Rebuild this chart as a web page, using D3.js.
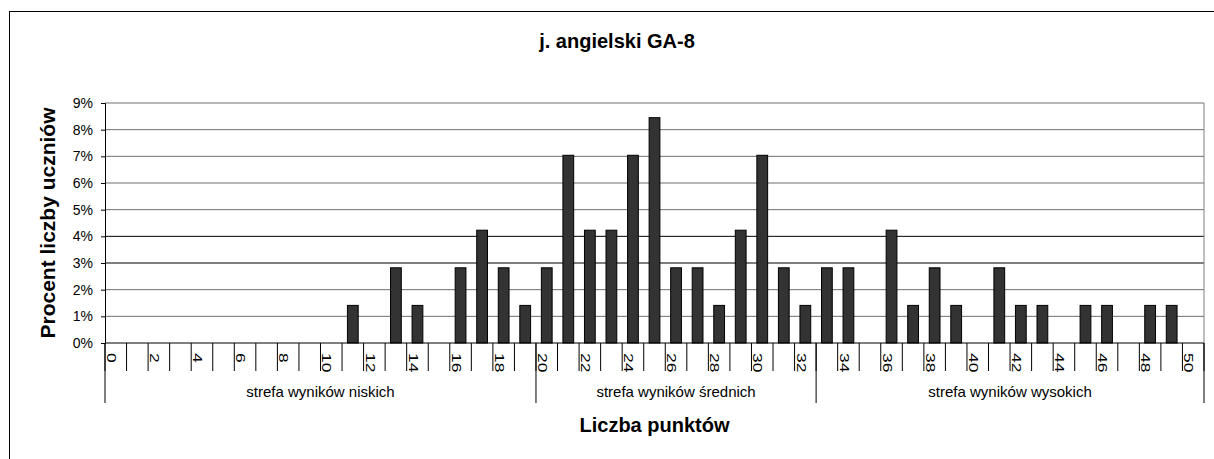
<!DOCTYPE html>
<html>
<head>
<meta charset="utf-8">
<script src="https://cdn.jsdelivr.net/npm/d3@7"></script>
<style>
  body { margin: 0; background: #fff; }
  text { font-family: Arial, "Liberation Sans", sans-serif; fill: #000; }
  .axis-title { font-weight: bold; font-size: 20px; }
</style>
</head>
<body>
<div id="chart"></div>
<script>
// chart data
const chartTitle = "j. angielski GA-8";
const points = d3.range(0, 51); // 0..50 points
const percents = [
  0, 0, 0, 0, 0, 0, 0, 0, 0, 0,
  0, 1.41, 0, 2.82, 1.41, 0, 2.82, 4.23, 2.82, 1.41,
  2.82, 7.04, 4.23, 4.23, 7.04, 8.45, 2.82, 2.82, 1.41, 4.23,
  7.04, 2.82, 1.41, 2.82, 2.82, 0, 4.23, 1.41, 2.82, 1.41,
  0, 2.82, 1.41, 1.41, 0, 1.41, 1.41, 0, 1.41, 1.41,
  0
];
const yTicks = [0, 1, 2, 3, 4, 5, 6, 7, 8, 9];
const tickLabels = points.filter(d => d % 2 === 0);
const zoneNames = ["strefa wyników niskich", "strefa wyników średnich", "strefa wyników wysokich"];
const zoneStart = [0, 20, 33];
const zoneEnd = [19, 32, 50];

const width = 1214, height = 459;
const margin = { left: 105, right: 10, top: 103, bottom: 116 };
const plotRight = width - margin.right;
const plotBottom = height - margin.bottom;

const svg = d3.select("#chart")
  .append("svg")
  .attr("width", width)
  .attr("height", height);

// outer chart border
svg.append("rect")
  .attr("x", 9.5).attr("y", 11.5)
  .attr("width", 1220).attr("height", 470)
  .attr("fill", "#fff")
  .attr("stroke", "#000");

// scales
const xCat = d3.scaleBand()
  .domain(points)
  .range([margin.left, plotRight]);

const xBar = d3.scaleBand()
  .domain(points)
  .range([margin.left, plotRight])
  .paddingInner(0.5)
  .paddingOuter(0.25);

const yScale = d3.scaleLinear()
  .domain([0, 9])
  .range([plotBottom, margin.top]);

// gridlines
svg.append("g")
  .selectAll("line")
  .data(yTicks.slice(1))
  .join("line")
    .attr("x1", margin.left).attr("x2", plotRight)
    .attr("y1", d => yScale(d)).attr("y2", d => yScale(d))
    .attr("stroke", d => (d === 3 || d === 4) ? "#000" : "#6e6e6e")
    .attr("stroke-width", 1);

// plot area right border (grey)
svg.append("line")
  .attr("x1", plotRight).attr("x2", plotRight)
  .attr("y1", margin.top).attr("y2", plotBottom)
  .attr("stroke", "#808080");

// bars
svg.append("g")
  .selectAll("rect")
  .data(points)
  .join("rect")
    .filter(d => percents[d] > 0)
    .attr("x", d => xBar(d))
    .attr("y", d => yScale(percents[d]))
    .attr("width", xBar.bandwidth())
    .attr("height", d => plotBottom - yScale(percents[d]))
    .attr("fill", "#333333")
    .attr("stroke", "#000")
    .attr("stroke-width", 1);

// left axis
const leftAxis = d3.axisLeft(yScale)
  .tickValues(yTicks)
  .tickFormat(d => d + "%")
  .tickSize(4)
  .tickPadding(8);

const yAxisG = svg.append("g")
  .attr("transform", `translate(${margin.left},0)`)
  .call(leftAxis);
yAxisG.select(".domain").attr("stroke", "#000");
yAxisG.selectAll("text")
  .style("font-size", "14px")
  .style("font-family", "Arial, 'Liberation Sans', sans-serif");

// bottom axis line
svg.append("line")
  .attr("x1", margin.left).attr("x2", plotRight)
  .attr("y1", plotBottom).attr("y2", plotBottom)
  .attr("stroke", "#000");

// category boundary ticks
const bounds = points.map(d => xCat(d)).concat([xCat(50) + xCat.bandwidth()]);
svg.append("g")
  .selectAll("line")
  .data(bounds)
  .join("line")
    .attr("x1", d => d).attr("x2", d => d)
    .attr("y1", plotBottom).attr("y2", plotBottom + 28)
    .attr("stroke", "#000");

// rotated point labels
svg.append("g")
  .selectAll("text")
  .data(tickLabels)
  .join("text")
    .attr("transform", d => `translate(${xCat(d) + 2},${plotBottom + 10}) rotate(90) scale(1.45,1)`)
    .style("font-size", "12px")
    .text(d => d);

// zone separators and labels
const zoneEdges = zoneStart.map(d => xCat(d)).concat([xCat(50) + xCat.bandwidth()]);
svg.append("g")
  .selectAll("line")
  .data(zoneEdges)
  .join("line")
    .attr("x1", d => d).attr("x2", d => d)
    .attr("y1", plotBottom).attr("y2", plotBottom + 60)
    .attr("stroke", "#000");

svg.append("g")
  .selectAll("text")
  .data(zoneNames)
  .join("text")
    .attr("x", (d, i) => (xCat(zoneStart[i]) + xCat(zoneEnd[i]) + xCat.bandwidth()) / 2)
    .attr("y", plotBottom + 54)
    .attr("text-anchor", "middle")
    .style("font-size", "15px")
    .text(d => d);

// titles
svg.append("text")
  .text(chartTitle)
  .attr("class", "axis-title")
  .attr("x", 617)
  .attr("y", 48)
  .attr("text-anchor", "middle");

svg.append("text")
  .text("Liczba punktów")
  .attr("class", "axis-title")
  .attr("x", (margin.left + plotRight) / 2)
  .attr("y", 432)
  .attr("text-anchor", "middle");

svg.append("text")
  .text("Procent liczby uczniów")
  .attr("class", "axis-title")
  .style("font-size", "21px")
  .attr("transform", `translate(55,${(margin.top + plotBottom) / 2}) rotate(-90)`)
  .attr("text-anchor", "middle");
</script>
</body>
</html>
